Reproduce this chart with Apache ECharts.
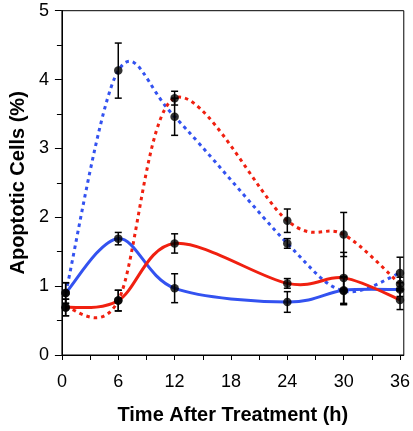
<!DOCTYPE html>
<html>
<head>
<meta charset="utf-8">
<script src="https://cdn.jsdelivr.net/npm/echarts@6/dist/echarts.min.js"></script>
<style>
html,body{margin:0;padding:0;background:#fff;}
#chart{width:413px;height:431px;}
</style>
</head>
<body>
<div id="chart"></div>
<script>
const hours = [0.4, 6, 12, 24, 30, 36];
const xTickValues = [0, 3, 6, 9, 12, 15, 18, 21, 24, 27, 30, 33, 36];
const xLabelValues = [0, 6, 12, 18, 24, 30, 36];
const blueSolid    = [0.90, 1.69, 0.97, 0.77, 0.94, 0.95];
const blueSolidErr = [0.15, 0.09, 0.21, 0.15, 0.20, 0.10];
const redSolid     = [0.69, 0.79, 1.62, 1.04, 1.12, 0.80];
const redSolidErr  = [0.12, 0.15, 0.14, 0.07, 0.37, 0.14];
const blueDash     = [0.90, 4.13, 3.46, 1.62, 0.93, 1.19];
const blueDashErr  = [0.15, 0.40, 0.27, 0.07, 0.20, 0.23];
const redDash      = [0.69, 0.79, 3.73, 1.95, 1.75, 1.03];
const redDashErr   = [0.12, 0.15, 0.10, 0.17, 0.32, 0.10];

const BLUE = '#3352f0';
const RED = '#f02010';
const FONT = 'Liberation Sans, Arial, sans-serif';

function pairs(ys) { return hours.map((h, i) => [h, ys[i]]); }
function errData(ys, es) { return hours.map((h, i) => [h, ys[i] - es[i], ys[i] + es[i]]); }

// Smooth curve through the data points (Catmull-Rom style bezier), positioned by the axes.
function curveSeries(ys, color, dashed) {
  return {
    type: 'custom', data: pairs(ys), z: 2, animation: false, silent: true,
    renderItem: function (params, api) {
      if (params.dataIndex !== 0) return null;
      const P = hours.map((h, i) => api.coord([h, ys[i]]));
      const n = P.length;
      let d = 'M' + P[0][0] + ' ' + P[0][1];
      for (let i = 0; i < n - 1; i++) {
        const p0 = P[Math.max(i - 1, 0)], p1 = P[i], p2 = P[i + 1], p3 = P[Math.min(i + 2, n - 1)];
        const c1x = p1[0] + (p2[0] - p0[0]) / 6, c1y = p1[1] + (p2[1] - p0[1]) / 6;
        const c2x = p2[0] - (p3[0] - p1[0]) / 6, c2y = p2[1] - (p3[1] - p1[1]) / 6;
        d += ' C' + c1x + ' ' + c1y + ' ' + c2x + ' ' + c2y + ' ' + p2[0] + ' ' + p2[1];
      }
      return {
        type: 'path', shape: { pathData: d },
        style: { fill: 'none', stroke: color, lineWidth: 3, lineDash: dashed ? [3.5, 4] : null, lineCap: 'butt' }
      };
    }
  };
}
function errSeries(ys, es) {
  return {
    type: 'custom', data: errData(ys, es), z: 3, animation: false, silent: true,
    renderItem: function (params, api) {
      const lo = api.coord([api.value(0), api.value(1)]);
      const hi = api.coord([api.value(0), api.value(2)]);
      const w = 3.5;
      const st = { stroke: '#000', lineWidth: 1.5 };
      return { type: 'group', children: [
        { type: 'line', shape: { x1: lo[0], y1: lo[1], x2: hi[0], y2: hi[1] }, style: st },
        { type: 'line', shape: { x1: lo[0] - w, y1: lo[1], x2: lo[0] + w, y2: lo[1] }, style: st },
        { type: 'line', shape: { x1: hi[0] - w, y1: hi[1], x2: hi[0] + w, y2: hi[1] }, style: st }
      ]};
    }
  };
}
function pointSeries(ys) {
  return { type: 'scatter', data: pairs(ys), symbol: 'circle', symbolSize: 8.5,
    itemStyle: { color: '#000' }, z: 4, animation: false, silent: true };
}

const chart = echarts.init(document.getElementById('chart'), null, { renderer: 'canvas' });
chart.setOption({
  backgroundColor: '#fff',
  animation: false,
  grid: { left: 58.7, right: 9, top: 10.7, bottom: 76, show: true, borderColor: '#000', borderWidth: 1, backgroundColor: 'transparent' },
  xAxis: {
    type: 'value', min: 0, max: 36.4,
    name: 'Time After Treatment (h)', nameLocation: 'middle', nameGap: 50,
    nameTextStyle: { fontFamily: FONT, fontWeight: 'bold', fontSize: 20, color: '#000' },
    axisLine: { show: true, onZero: false, lineStyle: { color: '#000', width: 1 } },
    axisTick: { show: true, length: 5, customValues: xTickValues, lineStyle: { color: '#000' } },
    axisLabel: { customValues: xLabelValues, margin: 18, fontFamily: FONT, fontSize: 18, color: '#000' },
    splitLine: { show: false }
  },
  yAxis: {
    type: 'value', min: 0, max: 5, interval: 1,
    name: 'Apoptotic Cells (%)', nameLocation: 'middle', nameGap: 31,
    nameTextStyle: { fontFamily: FONT, fontWeight: 'bold', fontSize: 20, color: '#000' },
    axisLine: { show: true, lineStyle: { color: '#000', width: 1 } },
    axisTick: { show: true, length: 7, lineStyle: { color: '#000' } },
    minorTick: { show: true, splitNumber: 2, length: 5, lineStyle: { color: '#000' } },
    axisLabel: { margin: 13, fontFamily: FONT, fontSize: 18, color: '#000' },
    splitLine: { show: false }, minorSplitLine: { show: false }
  },
  series: [
    curveSeries(blueDash, BLUE, true),
    curveSeries(redDash, RED, true),
    curveSeries(blueSolid, BLUE, false),
    curveSeries(redSolid, RED, false),
    errSeries(blueDash, blueDashErr),
    errSeries(redDash, redDashErr),
    errSeries(blueSolid, blueSolidErr),
    errSeries(redSolid, redSolidErr),
    pointSeries(blueDash),
    pointSeries(redDash),
    pointSeries(blueSolid),
    pointSeries(redSolid)
  ]
});
</script>
</body>
</html>
